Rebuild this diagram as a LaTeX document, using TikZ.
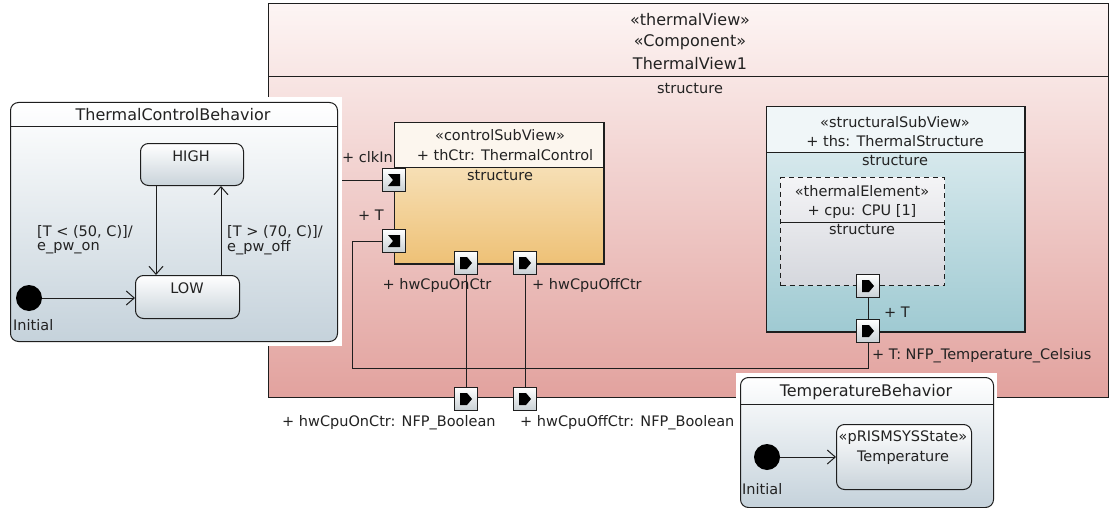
\documentclass[tikz,border=0pt]{standalone}
\usepackage{fontspec}
\setmainfont{DejaVu Sans}
\usetikzlibrary{arrows.meta}
\definecolor{lc}{HTML}{1E1E1E}
\definecolor{tc}{HTML}{222222}
\definecolor{pinkT}{HTML}{FDF5F4}
\definecolor{pinkB}{HTML}{E2A29E}
\definecolor{ctlH}{HTML}{FCF6EE}
\definecolor{ctlT}{HTML}{FAEDD2}
\definecolor{ctlB}{HTML}{EEC176}
\definecolor{strH}{HTML}{F0F6F8}
\definecolor{strT}{HTML}{E4F0F3}
\definecolor{strB}{HTML}{9FCAD2}
\definecolor{elT}{HTML}{F4F4F6}
\definecolor{elB}{HTML}{D5D7DD}
\definecolor{bhB}{HTML}{C5D2DB}
\definecolor{stB}{HTML}{C9D3DA}
\definecolor{portb}{HTML}{C8D0D4}
\newcommand\outglyph[1]{\fill[black] ([shift={(-6,-6)}]#1.center) -- ++(7,0) -- ++(5,6) -- ++(-5,6) -- ++(-7,0) -- cycle;}
\newcommand\inglyph[1]{\fill[black] ([shift={(-6,-6)}]#1.center) -- ++(12,0) -- ++(0,12) -- ++(-12,0) -- ++(5,-6) -- cycle;}
\tikzset{
 box/.style={draw=lc, line width=1pt, inner sep=0, anchor=north west},
 port/.style={draw=lc, line width=1pt, inner sep=0, minimum size=23pt, top color=white, bottom color=portb},
 txt/.style={font=\fontsize{14.5}{17}\selectfont, text=tc, inner sep=0},
 ttl/.style={font=\fontsize{16}{19}\selectfont, text=tc, inner sep=0},
 wire/.style={draw=lc, line width=1pt},
 trans/.style={draw=lc, line width=1pt, -{Straight Barb[length=8pt,width=14pt]}},
 stbox/.style={draw=lc, line width=1pt, rounded corners=8pt, top color=white, bottom color=stB, inner sep=0, anchor=north west},
 initnode/.style={circle, fill=black, minimum size=26pt, inner sep=0},
}
\begin{document}
\begin{tikzpicture}[x=1pt,y=-1pt]
\useasboundingbox[fill=white] (0,0) rectangle (1110,508);
% main component
\node[box, top color=pinkT, bottom color=pinkB, minimum width=840pt, minimum height=394pt] (tv) at (268,3) {};
\draw[wire] (268,77) -- (1108,77);
\node[ttl] (t1) at (690,20) {«thermalView»};
\node[ttl] (t2) at (690,42) {«Component»};
\node[ttl] (t3) at (690,64) {ThermalView1};
\node[txt] (t4) at (690,89) {structure};
% connectors
\coordinate (clkS) at (268,180);
\coordinate (tb) at (352,368);
\node[port] (pclk) at (394,180) {};
\node[port] (pTc) at (394,241) {};
\node[port] (pOn) at (466,263) {};
\node[port] (pOff) at (525,263) {};
\node[port] (pOnB) at (466,399) {};
\node[port] (pOffB) at (525,399) {};
\node[port] (pcpu) at (868,286) {};
\node[port] (pTs) at (868,331) {};
\draw[wire] (clkS) -- (pclk.west);
\draw[wire] (pTc.west) -| (tb) -| (pTs.south);
\draw[wire] (pOn.south) -- (pOnB.north);
\draw[wire] (pOff.south) -- (pOffB.north);
% control sub view
\node[box, top color=ctlT, bottom color=ctlB, minimum width=209pt, minimum height=140pt] (ctl) at (394,123) {};
\fill[ctlH] (394.5,123.5) rectangle (602.5,167);
\draw[wire] (ctl.north west) rectangle (ctl.south east);
\draw[wire] (394,167) -- (603,167);
\node[txt] (c1) at (500,135) {«controlSubView»};
\node[txt] (c2) at (505,155) {+ thCtr: ThermalControl};
\node[txt] (c3) at (500,176) {structure};
% structural sub view
\node[box, top color=strT, bottom color=strB, minimum width=258pt, minimum height=224pt] (str) at (766,107) {};
\fill[strH] (766.5,107.5) rectangle (1023.5,152);
\draw[wire] (str.north west) rectangle (str.south east);
\draw[wire] (766,152) -- (1024,152);
\node[txt] (s1) at (895,122) {«structuralSubView»};
\node[txt] (s2) at (895,141) {+ ths: ThermalStructure};
\node[txt] (s3) at (895,161) {structure};
% thermal element
\node[box, dashed, dash pattern=on 5pt off 4pt, top color=elT, bottom color=elB, minimum width=164pt, minimum height=108pt] (el) at (780,177) {};
\draw[wire] (780,222) -- (944,222);
\node[txt] (e1) at (862,191) {«thermalElement»};
\node[txt] (e2) at (862,211) {+ cpu: CPU [1]};
\node[txt] (e3) at (862,230) {structure};
% ports drawn on top
\foreach \p in {pclk,pTc,pOn,pOff,pOnB,pOffB,pcpu,pTs} {\node[port] at (\p) {};}
\draw[wire] (pcpu.south) -- (pTs.north);
\inglyph{pclk}
\inglyph{pTc}
\outglyph{pOn}
\outglyph{pOff}
\outglyph{pOnB}
\outglyph{pOffB}
\outglyph{pcpu}
\outglyph{pTs}
% port labels
\node[txt, anchor=east] (l1) at (393,157) {+ clkIn};
\node[txt, anchor=east] (l2) at (384,215) {+ T};
\node[txt] (l3) at (437,285) {+ hwCpuOnCtr};
\node[txt, anchor=west] (l4) at (532,285) {+ hwCpuOffCtr};
\node[txt, anchor=west] (l5) at (884,312) {+ T};
\node[txt, anchor=west] (l6) at (872,356) {+ T: NFP\_Temperature\_Celsius};
\node[txt, anchor=west] (l7) at (282,423) {+ hwCpuOnCtr: NFP\_Boolean};
\node[txt, anchor=west] (l8) at (520,423) {+ hwCpuOffCtr: NFP\_Boolean};
% ThermalControlBehavior
\fill[white] (3,97) rectangle (342,346);
\node[box, rounded corners=8pt, top color=white, bottom color=bhB, minimum width=327pt, minimum height=239pt] (tcb) at (10,102) {};
\draw[wire] (10,127) -- (337,127);
\node[ttl] (tcbt) at (173,115) {ThermalControlBehavior};
\node[stbox, minimum width=103pt, minimum height=42pt] (high) at (140,143) {};
\node[txt] (hight) at (191,156) {HIGH};
\node[stbox, minimum width=104pt, minimum height=43pt] (low) at (135,275) {};
\node[txt] (lowt) at (187,288) {LOW};
\coordinate (xa) at (156,0);
\coordinate (xb) at (221,0);
\draw[trans] (high.south -| xa) -- (low.north -| xa);
\draw[trans] (low.north -| xb) -- (high.south -| xb);
\node[txt, anchor=west] (g1) at (37,232) {[T < (50, C)]/};
\node[txt, anchor=west] (g2) at (37,248) {e\_pw\_on};
\node[txt, anchor=west] (g3) at (227,232) {[T > (70, C)]/};
\node[txt, anchor=west] (g4) at (227,248) {e\_pw\_off};
\node[initnode] (i1) at (29,298) {};
\node[txt, anchor=west] (i1t) at (13,325) {Initial};
\draw[trans] (i1.east) -- (low.west |- i1);
% TemperatureBehavior
\fill[white] (736,373) rectangle (997,508);
\node[box, rounded corners=8pt, top color=white, bottom color=bhB, minimum width=253pt, minimum height=130pt] (tmb) at (740,377) {};
\draw[wire] (740,404) -- (993,404);
\node[ttl] (tmbt) at (866,392) {TemperatureBehavior};
\node[stbox, minimum width=135pt, minimum height=65pt] (temp) at (836,424) {};
\node[txt] (tp1) at (903,438) {«pRISMSYSState»};
\node[txt] (tp2) at (903,458) {Temperature};
\node[initnode] (i2) at (767,457) {};
\node[txt, anchor=west] (i2t) at (742,489) {Initial};
\draw[trans] (i2.east) -- (temp.west |- i2);
\end{tikzpicture}
\end{document}
